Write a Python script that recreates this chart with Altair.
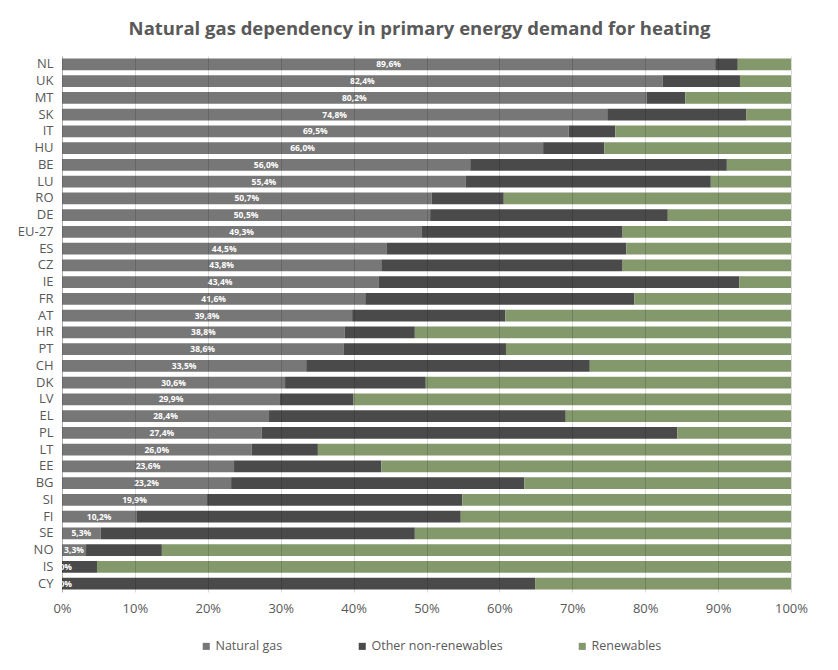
import altair as alt
import pandas as pd

countries = ["NL", "UK", "MT", "SK", "IT", "HU", "BE", "LU", "RO", "DE", "EU-27", "ES",
             "CZ", "IE", "FR", "AT", "HR", "PT", "CH", "DK", "LV", "EL", "PL", "LT",
             "EE", "BG", "SI", "FI", "SE", "NO", "IS", "CY"]
natural_gas = [89.6, 82.4, 80.2, 74.8, 69.5, 66.0, 56.0, 55.4, 50.7, 50.5, 49.3, 44.5,
               43.8, 43.4, 41.6, 39.8, 38.8, 38.6, 33.5, 30.6, 29.9, 28.4, 27.4, 26.0,
               23.6, 23.2, 19.9, 10.2, 5.3, 3.3, 0.0, 0.0]
other_nonrenew = [3.1, 10.6, 5.3, 19.1, 6.4, 8.4, 35.2, 33.6, 9.9, 32.6, 27.6, 32.9,
                  33.1, 49.5, 36.9, 21.0, 9.6, 22.3, 38.9, 19.3, 10.1, 40.7, 57.0, 9.1,
                  20.2, 40.2, 35.0, 44.5, 43.1, 10.4, 4.8, 64.9]
renewables = [round(100 - g - o, 1) for g, o in zip(natural_gas, other_nonrenew)]

series = ["Natural gas", "Other non-renewables", "Renewables"]
colors = ["#777777", "#4a4a4a", "#83986b"]

rows = []
for c, g, o, r in zip(countries, natural_gas, other_nonrenew, renewables):
    for i, (s, v) in enumerate(zip(series, [g, o, r])):
        rows.append({"country": c, "series": s, "value": v / 100, "order": i})
df = pd.DataFrame(rows)

lab = pd.DataFrame({
    "country": countries,
    "mid": [g / 200 for g in natural_gas],
    "label": [f"{g:.1f}%".replace(".", ",") for g in natural_gas],
})

FONT = "Open Sans"

y_enc = alt.Y("country:N", sort=countries, title=None,
              scale=alt.Scale(paddingInner=0.3, paddingOuter=0.15),
              axis=alt.Axis(domainColor="#d0d0d0", ticks=False, labelFontSize=13,
                            labelColor="#595959", labelPadding=9, labelFont=FONT,
                            grid=False))

bars = alt.Chart(df).mark_bar().encode(
    x=alt.X("value:Q", stack="zero", title=None,
            scale=alt.Scale(domain=[0, 1], nice=False),
            axis=alt.Axis(format=".0%", values=[i / 10 for i in range(11)],
                          domain=False, ticks=False, labelFontSize=13,
                          labelColor="#595959", labelPadding=10, labelFont=FONT,
                          labelFlush=False,
                          gridColor="#000000", gridOpacity=0.14, zindex=1)),
    y=y_enc,
    color=alt.Color("series:N", sort=series,
                    scale=alt.Scale(domain=series, range=colors),
                    legend=alt.Legend(title=None, orient="none", direction="horizontal",
                                      legendX=138, legendY=584, symbolType="square",
                                      symbolSize=50, symbolStrokeWidth=0,
                                      labelFontSize=12.5, labelColor="#595959",
                                      labelFont=FONT, columnPadding=73,
                                      labelOffset=3)),
    order=alt.Order("order:Q"),
)

texts = alt.Chart(lab).mark_text(color="white", fontSize=8.5, fontWeight="bold",
                                 font=FONT, clip=True).encode(
    x=alt.X("mid:Q"),
    y=alt.Y("country:N", sort=countries),
    text="label:N",
)

chart = alt.layer(bars, texts).properties(
    width=729, height=536,
    title=alt.TitleParams("Natural gas dependency in primary energy demand for heating",
                          fontSize=18.5, fontWeight="bold", color="#595959",
                          font=FONT, offset=18, anchor="middle", dx=-7),
    autosize=alt.AutoSizeParams(type="none"),
    padding={"left": 54, "top": 48, "right": 39, "bottom": 70},
).configure_view(stroke=None)

chart.save("out.html", embed_options={"renderer": "svg", "actions": False})
